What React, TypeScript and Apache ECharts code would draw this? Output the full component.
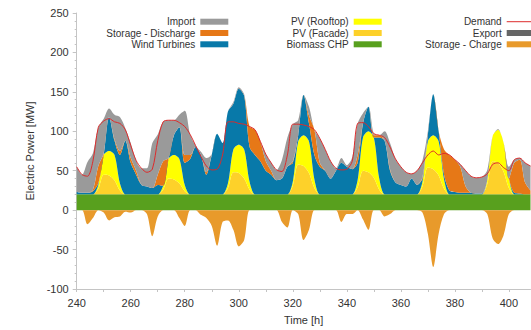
import React, { useEffect, useRef } from 'react';
import * as echarts from 'echarts';

const hours = [240, 242, 244, 246, 248, 250, 252, 254, 256, 258, 260, 262, 264, 266, 268, 270, 272, 274, 276, 278, 280, 282, 284, 286, 288, 290, 292, 294, 296, 298, 300, 302, 304, 306, 308, 310, 312, 314, 316, 318, 320, 322, 324, 326, 328, 330, 332, 334, 336, 338, 340, 342, 344, 346, 348, 350, 352, 354, 356, 358, 360, 362, 364, 366, 368, 370, 372, 374, 376, 378, 380, 382, 384, 386, 388, 390, 392, 394, 396, 398, 400, 402, 404, 406, 408];

const biomassCHP = [20, 20, 20, 20, 20, 20, 20, 20, 20, 20, 20, 20, 20, 20, 20, 20, 20, 20, 20, 20, 20, 20, 20, 20, 20, 20, 20, 20, 20, 20, 20, 20, 20, 20, 20, 20, 20, 20, 20, 20, 20, 20, 20, 20, 20, 20, 20, 20, 20, 20, 20, 20, 20, 20, 20, 20, 20, 20, 20, 20, 20, 20, 20, 20, 20, 20, 20, 20, 20, 20, 20, 20, 20, 20, 20, 20, 20, 20, 20, 20, 20, 20, 20, 20, 20];

const pvFacade = [0, 0, 0, 0, 7, 25, 24, 18, 5, 0, 0, 0, 0, 0, 0, 0, 6, 20, 19, 14, 4, 0, 0, 0, 0, 0, 0, 0, 8, 28, 27, 20, 6, 0, 0, 0, 0, 0, 0, 0, 11, 38, 36, 27, 8, 0, 0, 0, 0, 0, 0, 0, 9, 30, 28, 21, 6, 0, 0, 0, 0, 0, 0, 0, 10, 34, 32, 24, 7, 0, 0, 0, 0, 0, 0, 0, 13, 42, 40, 29, 8, 0, 0, 0, 0];

const pvRooftop = [0, 0, 0, 0, 5, 25, 31, 32, 9, 0, 0, 0, 0, 0, 0, 0, 5, 25, 31, 31, 8, 0, 0, 0, 0, 0, 0, 0, 6, 29, 36, 37, 10, 0, 0, 0, 0, 0, 0, 0, 5, 29, 39, 40, 11, 0, 0, 0, 0, 0, 0, 0, 9, 42, 52, 51, 14, 0, 0, 0, 0, 0, 0, 0, 6, 33, 43, 43, 12, 0, 0, 0, 0, 0, 0, 0, 5, 32, 42, 37, 12, 0, 0, 0, 0];

const windTurbines = [3, 2, 2, 4, 2, 0, 43, 18, 36, 68, 40, 25, 12, 10, 8, 12, 0, 0, 25, 40, 28, 45, 60, 50, 25, 50, 77, 65, 91, 58, 71, 68, 44, 50, 42, 30, 25, 18, 20, 35, 24, 8, 51, 23, 31, 35, 30, 20, 30, 40, 35, 32, 22, 18, 31, 0, 52, 68, 30, 15, 12, 10, 20, 12, 4, 8, 52, 13, 6, 5, 3, 2, 2, 2, 1, 1, 0, 0, 0, 0, 0, 2, 1, 0, 0];

const storageDischarge = [0, 0, 0, 2, 22, 2, 0, 2, 5, 0, 6, 5, 0, 0, 0, 13, 31, 1, 0, 0, 10, 5, 0, 0, 3, 0, 0, 0, 0, 0, 0, 0, 26, 32, 25, 12, 5, 0, 0, 0, 2, 0, 0, 10, 32, 5, 0, 0, 0, 0, 0, 0, 10, 0, 0, 3, 3, 0, 2, 0, 0, 0, 0, 0, 2, 0, 0, 0, 32, 45, 41, 33, 8, 0, 0, 0, 0, 0, 0, 0, 0, 38, 43, 15, 5];

const importPower = [32, 23, 39, 46, 49, 44, 11, 31, 43, 16, 19, 13, 21, 23, 57, 51, 50, 48, 19, 16, 56, 26, 2, 4, 18, 1, 0, 0, 0, 2, 2, 2, 0, 0, 0, 9, 10, 13, 24, 37, 47, 19, 0, 11, 0, 31, 27, 22, 3, 6, 2, 15, 40, 13, 0, 2, 0, 12, 33, 30, 23, 18, 6, 18, 21, 5, 0, 0, 0, 0, 0, 3, 20, 21, 20, 21, 13, 0, 1, 0, 15, 4, 2, 25, 31];

const exportPower = [0, 0, 0, 0, 0, 0, 0, 0, 0, 0, 0, 0, 0, 0, 0, 0, 0, 0, 0, 0, 0, 0, 0, 0, 0, 0, 0, 0, 0, 0, 0, 0, 0, 0, 0, 0, 0, 0, 0, 0, 0, 0, 0, 0, 0, 0, 0, 0, 0, 0, 0, 0, 0, 0, 0, 0, 0, 0, 0, 0, 0, 0, 0, 0, 0, 0, 0, 0, 0, 0, 0, 0, 0, 0, 0, 0, 0, 0, 0, 0, 0, 0, 0, 0, 0];

const storageCharge = [0, 0, -18, -10, 0, -3, -13, -9, -8, -2, -3, 0, 0, -5, -33, -8, 0, 0, 0, -10, -20, 0, 0, -6, -10, -20, -45, -15, -13, -25, -46, -38, 0, 0, 0, 0, 0, 0, -15, -22, 0, -5, -38, -25, 0, 0, 0, 0, 0, -15, -5, -5, 0, -12, -25, 0, 0, -8, -5, 0, 0, 0, 0, 0, -3, -30, -72, -30, -5, 0, 0, 0, 0, 0, 0, 0, -5, -36, -43, -32, -5, 0, 0, 0, 0];

const demand = [55, 45, 43, 62, 105, 113, 116, 112, 110, 102, 82, 63, 53, 48, 52, 88, 112, 114, 114, 111, 106, 96, 82, 68, 56, 51, 52, 70, 112, 112, 110, 109, 106, 102, 87, 71, 60, 51, 49, 70, 109, 109, 108, 106, 102, 91, 77, 62, 53, 51, 52, 62, 110, 111, 106, 97, 95, 92, 80, 65, 55, 48, 46, 50, 60, 70, 75, 70, 72, 70, 64, 58, 50, 43, 41, 42, 46, 58, 60, 54, 50, 64, 66, 60, 56];

const yTicks = { min: -100, max: 250, interval: 50 };
const xLabelEvery = 10; // every 10th sample (20 h)
const xTickEvery = 5; // every 5th sample (10 h)

const FONT = '"Liberation Sans", Arial, sans-serif';

const C = {
  import: '#9a9a9a',
  discharge: '#e67817',
  wind: '#0879a9',
  rooftop: '#ffff00',
  facade: '#fdd12a',
  biomass: '#58a01e',
  demand: '#dd2b2b',
  export: '#666666',
  charge: '#e89a2b',
};

const SMOOTH = 0.3;

export default function App() {
  const ref = useRef<HTMLDivElement>(null);

  useEffect(() => {
    document.body.style.margin = '0';
    const chart = echarts.init(ref.current as HTMLDivElement, null, { renderer: 'svg' });
    const area = (name: string, arr: number[], color: string, stack: string) => ({
      name,
      type: 'line',
      stack,
      data: arr,
      symbol: 'none',
      showSymbol: false,
      smooth: SMOOTH,
      color,
      lineStyle: { width: 0, color },
      itemStyle: { color, borderWidth: 0 },
      areaStyle: { color, opacity: 1 },
      emphasis: { disabled: true },
    });
    const legendBase = {
      orient: 'vertical',
      align: 'right',
      top: 16.2,
      itemWidth: 28,
      itemHeight: 6,
      itemGap: 0.3,
      padding: 0,
      selectedMode: false,
      symbolKeepAspect: true,
      itemStyle: { borderWidth: 0 },
      textStyle: { fontSize: 10, fontFamily: FONT, color: '#333', lineHeight: 11 },
    };
    const axisColor = '#c4c4c4';
    chart.setOption({
      animation: false,
      textStyle: { fontFamily: FONT },
      grid: { left: 76.7, right: 0.5, top: 13, bottom: 37 },
      legend: [
        {
          ...legendBase,
          right: 302.7,
          data: [
            { name: 'Import', icon: 'rect' },
            { name: 'Storage - Discharge', icon: 'rect' },
            { name: 'Wind Turbines', icon: 'rect' },
          ],
        },
        {
          ...legendBase,
          right: 149.3,
          data: [
            { name: 'PV (Rooftop)', icon: 'rect' },
            { name: 'PV (Facade)', icon: 'rect' },
            { name: 'Biomass CHP', icon: 'rect' },
          ],
        },
        {
          ...legendBase,
          right: -3.7,
          data: [
            { name: 'Demand', icon: 'path://M0,0H28V1H0Z' },
            { name: 'Export', icon: 'rect' },
            { name: 'Storage - Charge', icon: 'rect' },
          ],
        },
      ],
      xAxis: {
        type: 'category',
        data: hours.map(String),
        boundaryGap: false,
        name: 'Time [h]',
        nameLocation: 'middle',
        nameGap: 25,
        nameTextStyle: { fontSize: 11, color: '#333', fontFamily: FONT },
        axisLine: { show: true, onZero: false, lineStyle: { color: axisColor } },
        axisTick: {
          show: true,
          length: 3,
          interval: (i: number) => i % xTickEvery === 0,
          lineStyle: { color: axisColor },
        },
        axisLabel: {
          fontSize: 11,
          color: '#333',
          fontFamily: FONT,
          margin: 8,
          interval: (i: number) => i % xLabelEvery === 0,
        },
        splitLine: { show: false },
      },
      yAxis: {
        type: 'value',
        min: yTicks.min,
        max: yTicks.max,
        interval: yTicks.interval,
        name: 'Electric Power [MW]',
        nameLocation: 'middle',
        nameGap: 40,
        nameTextStyle: { fontSize: 11, color: '#333', fontFamily: FONT },
        axisLine: { show: true, lineStyle: { color: axisColor } },
        axisTick: { show: true, length: 4, lineStyle: { color: axisColor } },
        minorTick: { show: true, splitNumber: 5, length: 2, lineStyle: { color: axisColor } },
        axisLabel: { fontSize: 11, color: '#333', fontFamily: FONT, margin: 8 },
        splitLine: { show: false },
      },
      series: [
        area('Biomass CHP', biomassCHP, C.biomass, 'pos'),
        area('PV (Facade)', pvFacade, C.facade, 'pos'),
        area('PV (Rooftop)', pvRooftop, C.rooftop, 'pos'),
        area('Wind Turbines', windTurbines, C.wind, 'pos'),
        area('Storage - Discharge', storageDischarge, C.discharge, 'pos'),
        area('Import', importPower, C.import, 'pos'),
        area('Export', exportPower, C.export, 'neg'),
        area('Storage - Charge', storageCharge, C.charge, 'neg'),
        {
          name: 'Demand',
          type: 'line',
          data: demand,
          symbol: 'none',
          showSymbol: false,
          smooth: SMOOTH,
          color: C.demand,
          lineStyle: { width: 1, color: C.demand },
          itemStyle: { color: C.demand },
          emphasis: { disabled: true },
          z: 5,
        },
      ],
    });
    return () => chart.dispose();
  }, []);

  return <div ref={ref} style={{ width: 531, height: 330 }} />;
}
